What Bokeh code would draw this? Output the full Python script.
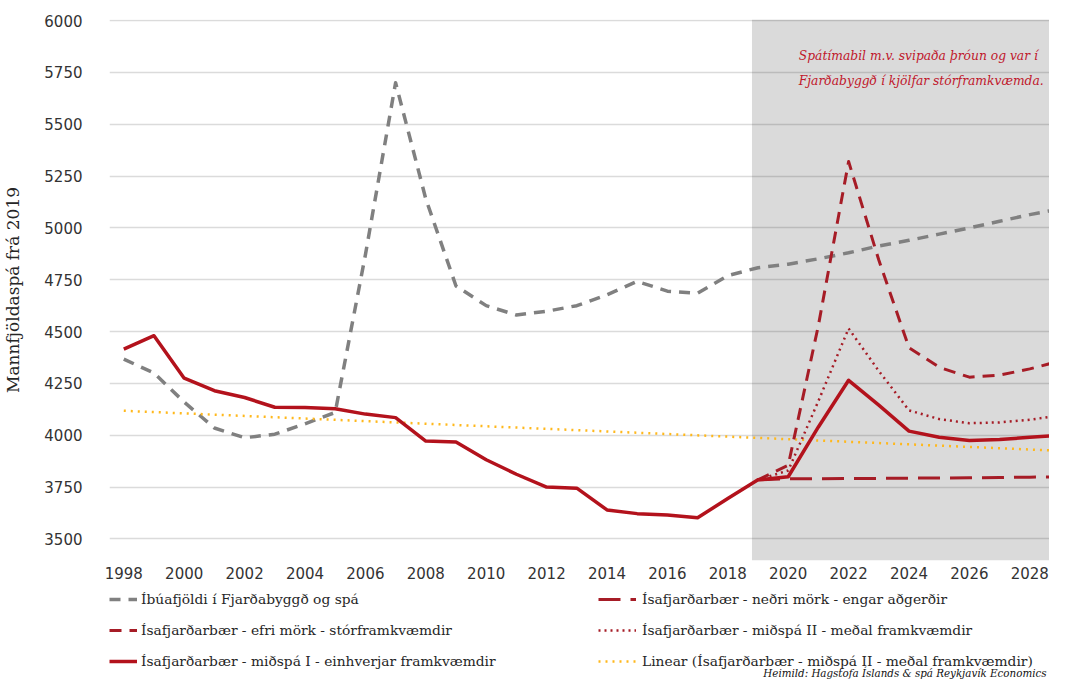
from bokeh.plotting import figure
from bokeh.layouts import column
from bokeh.models import Range1d, FixedTicker, BoxAnnotation, Legend, LegendItem, Label
from bokeh.embed import file_html
from bokeh.resources import INLINE

# ---------------- data ----------------
years = list(range(1998, 2030))
fjardabyggd = [4367, 4300, 4160, 4035, 3988, 4005, 4055, 4110, 4870, 5700,
               5140, 4720, 4625, 4580, 4598, 4625, 4677, 4742, 4695, 4685,
               4770, 4808, 4825, 4851, 4880, 4913, 4940, 4970, 5000, 5032,
               5064, 5091]
midspa_1 = [4415, 4480, 4275, 4215, 4182, 4135, 4134, 4128, 4102, 4085,
            3972, 3968, 3882, 3812, 3750, 3745, 3640, 3622, 3615, 3602,
            3695, 3785, 3800, 4040, 4265, 4145, 4020, 3990, 3975, 3980,
            3990, 4000]
forecast_years = list(range(2019, 2030))
nedri_mork = [3785, 3790, 3790, 3791, 3792, 3793, 3794, 3795, 3796, 3798, 3800]
efri_mork = [3785, 3855, 4530, 5320, 4845, 4422, 4328, 4280, 4290, 4320, 4358]
midspa_2 = [3785, 3830, 4165, 4515, 4310, 4120, 4078, 4058, 4062, 4075, 4095]
trend_years = [1998, 2029]
trend_values = [4118, 3925]
x_ticks = list(range(1998, 2029, 2))
y_ticks = list(range(3500, 6001, 250))
forecast_start = 2018.8

labels = {
    "gray": "Íbúafjöldi í Fjarðabyggð og spá",
    "lower": "Ísafjarðarbær - neðri mörk - engar aðgerðir",
    "upper": "Ísafjarðarbær - efri mörk - stórframkvæmdir",
    "mid2": "Ísafjarðarbær - miðspá II - meðal framkvæmdir",
    "mid1": "Ísafjarðarbær - miðspá I - einhverjar framkvæmdir",
    "trend": "Linear (Ísafjarðarbær - miðspá II - meðal framkvæmdir)",
}

series = {
    "gray": (years, fjardabyggd),
    "trend": (trend_years, trend_values),
    "lower": (forecast_years, nedri_mork),
    "upper": (forecast_years, efri_mork),
    "mid2": (forecast_years, midspa_2),
    "mid1": (years, midspa_1),
}

red_main = "#b3121c"
red_fc = "#a61c26"
styles = {
    "gray": dict(line_color="#808080", line_width=3.5, line_dash="11 8", line_join="round"),
    "trend": dict(line_color="#ffb81c", line_width=2.5, line_dash="2 5"),
    "lower": dict(line_color=red_fc, line_width=3, line_dash="22 10", line_join="round"),
    "upper": dict(line_color=red_fc, line_width=3, line_dash="12 8", line_join="round"),
    "mid2": dict(line_color=red_fc, line_width=2.5, line_dash="2 4", line_join="round"),
    "mid1": dict(line_color=red_main, line_width=3.5, line_join="round"),
}

# ---------------- main chart ----------------
p = figure(width=1049, height=586, output_backend="svg", toolbar_location=None,
           x_range=Range1d(1997.527, 2028.652), y_range=Range1d(3396, 6005),
           min_border_left=109, min_border_right=0, min_border_top=19,
           min_border_bottom=26)
p.outline_line_color = None
p.background_fill_color = "white"
p.border_fill_color = "white"

shade = BoxAnnotation(left=forecast_start, fill_color="#dadada", fill_alpha=1.0,
                      line_color=None, level="image")
p.add_layout(shade)

p.xgrid.visible = False
p.ygrid.ticker = FixedTicker(ticks=y_ticks)
p.ygrid.grid_line_color = "black"
p.ygrid.grid_line_alpha = 0.14
p.ygrid.grid_line_width = 1.5

for ax in (p.xaxis[0], p.yaxis[0]):
    ax.axis_line_color = None
    ax.major_tick_line_color = None
    ax.minor_tick_line_color = None
    ax.major_tick_out = 0
    ax.major_tick_in = 0
    ax.major_label_text_font = "DejaVu Sans"
    ax.major_label_text_font_size = "15px"
    ax.major_label_text_color = "#333333"

p.xaxis.ticker = FixedTicker(ticks=x_ticks)
p.xaxis.major_label_standoff = 6
p.yaxis.ticker = FixedTicker(ticks=y_ticks)
p.yaxis.major_label_standoff = 27
p.yaxis.axis_label = "Mannfjöldaspá frá 2019"
p.yaxis.axis_label_text_font = "DejaVu Serif"
p.yaxis.axis_label_text_font_style = "normal"
p.yaxis.axis_label_text_font_size = "17px"
p.yaxis.axis_label_text_color = "#262626"
p.yaxis.axis_label_standoff = 18

for k in ("gray", "trend", "lower", "upper", "mid2", "mid1"):
    xs, ys = series[k]
    p.line(xs, ys, **styles[k])

note_style = dict(text_font="DejaVu Serif", text_font_style="italic",
                  text_font_size="12.3px", text_color="#c0172b",
                  text_baseline="middle")
p.add_layout(Label(x=2020.35, y=5831, text="Spátímabil m.v. svipaða þróun og var í", **note_style))
p.add_layout(Label(x=2020.35, y=5710, text="Fjarðabyggð í kjölfar stórframkvæmda.", **note_style))

# ---------------- legend strip (frame aligned with the chart frame) ----------------
lg = figure(width=1049, height=93, output_backend="svg", toolbar_location=None,
            x_range=Range1d(0, 1), y_range=Range1d(0, 1),
            x_axis_location=None, y_axis_location=None,
            min_border_left=109, min_border_right=0, min_border_top=0,
            min_border_bottom=0)
lg.grid.visible = False
lg.outline_line_color = None
lg.background_fill_color = "white"
lg.border_fill_color = "white"

# legend keys: the same series, drawn outside this strip's visible range
key = {k: lg.line(series[k][0], series[k][1], **styles[k]) for k in styles}

leg_style = dict(orientation="vertical", glyph_height=20,
                 label_height=20, spacing=11, padding=0, margin=0,
                 border_line_color=None,
                 background_fill_alpha=0, label_text_font="DejaVu Serif",
                 label_text_font_size="13.8px", label_text_color="#262626")

leg_left = Legend(items=[LegendItem(label=labels[k], renderers=[key[k]])
                         for k in ("gray", "upper", "mid1")],
                  location=(0, 8), glyph_width=28, label_standoff=4, **leg_style)
leg_right = Legend(items=[LegendItem(label=labels[k], renderers=[key[k]])
                          for k in ("lower", "mid2", "trend")],
                   location=(489, 8), glyph_width=38, label_standoff=6, **leg_style)
lg.add_layout(leg_left)
lg.add_layout(leg_right)

lg.add_layout(Label(x=937, y=1, x_units="screen", y_units="screen",
                    text="Heimild: Hagstofa Íslands & spá Reykjavík Economics",
                    text_font="DejaVu Serif", text_font_style="italic",
                    text_font_size="10.3px", text_color="#111111",
                    text_align="right", text_baseline="bottom"))

layout = column(p, lg, spacing=0)
open("out.html", "w").write(file_html(layout, INLINE))
